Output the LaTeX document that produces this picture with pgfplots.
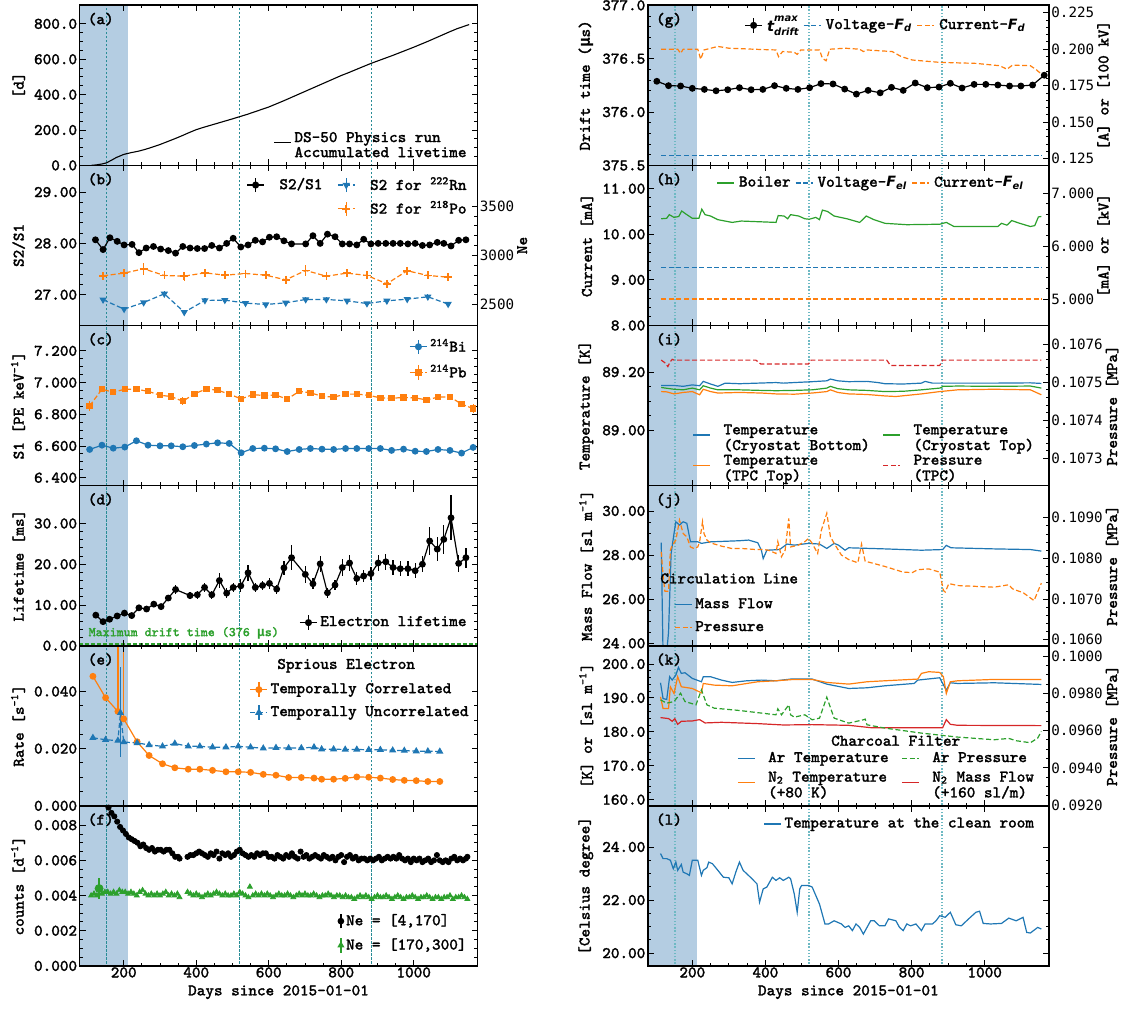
\documentclass[border=0pt]{standalone}
\usepackage{fontspec}
\newfontfamily\cour{Latin Modern Mono}[FakeBold=1.6]
\newfontfamily\dvs{DejaVu Sans}
\newfontfamily\dvsm{DejaVu Sans Mono}
\usepackage{pgfplots}
\pgfplotsset{compat=1.18}

\definecolor{tabblue}{HTML}{1F77B4}
\definecolor{taborange}{HTML}{FF7F0E}
\definecolor{tabgreen}{HTML}{2CA02C}
\definecolor{tabred}{HTML}{D62728}
\definecolor{shadeblue}{RGB}{180,205,226}
\definecolor{vdark}{RGB}{40,140,150}
\definecolor{vlight}{RGB}{110,185,195}

\newcommand{\mfont}{\cour\fontsize{8.1}{9.4}\selectfont}
\newcommand{\two}[2]{\renewcommand{\arraystretch}{0.8}\begin{tabular}[c]{@{}l@{}}#1\\#2\end{tabular}}
\newcommand{\Fd}{{\dvs\bfseries\itshape\fontsize{7.1}{8}\selectfont F\textsubscript{d}}}
\newcommand{\Fel}{{\dvs\bfseries\itshape\fontsize{7.1}{8}\selectfont F\textsubscript{el}}}
\newcommand{\tdrift}{{\dvs\bfseries\itshape\fontsize{7.4}{8}\selectfont t\raisebox{-1.8pt}{\shortstack[l]{\fontsize{5}{5}\selectfont max\\[-0.3pt]\fontsize{5}{5}\selectfont drift}}}}
\newcommand{\mus}{{\dvsm\bfseries µ}}

% shaded period and the three dotted lines
\newcommand{\deco}[3]{%
  \addplot[draw=none, fill=shadeblue, forget plot] coordinates {(60,#1) (213,#1) (213,#2) (60,#2)} -- cycle;
  \addplot[#3, forget plot] coordinates {(152,#1) (152,#2)};
  \addplot[#3, forget plot] coordinates {(519,#1) (519,#2)};
  \addplot[#3, forget plot] coordinates {(884,#1) (884,#2)};
}
\newcommand{\plab}[1]{\node[anchor=north west, inner sep=0pt] at (rel axis cs:0.02,0.955) {(#1)};}

\pgfplotsset{
  panel/.style={
    scale only axis, height=80.05pt,
    xmin=78, xmax=1176,
    xtick={200,400,600,800,1000}, minor x tick num=3,
    tick align=inside,
    major tick length=3pt, minor tick length=1.6pt,
    every tick/.style={black, line width=0.45pt},
    axis line style={line width=0.8pt},
    axis on top,
    scaled y ticks=false,
    yticklabel style={/pgf/number format/fixed, /pgf/number format/fixed zerofill,
      /pgf/number format/assume math mode=true, /pgf/number format/1000 sep={}, inner xsep=1pt},
    xticklabel style={/pgf/number format/assume math mode=true, /pgf/number format/1000 sep={}, inner ysep=0.8pt, yshift=0.3pt},
    xlabel shift=-0.5pt,
    legend style={draw=none, fill=none, inner sep=1pt, font=\mfont, cells={anchor=west},
      nodes={inner xsep=1.3pt, inner ysep=1.5pt}},
    legend cell align=left,
    legend image code/.code={\draw[mark repeat=2, mark phase=2, ##1, line width=0.75pt] plot coordinates {(0pt,0pt) (4.25pt,0pt) (8.5pt,0pt)};},
  },
  nolab/.style={xticklabels={}},
  L/.style={panel, width=199pt},
  R/.style={panel, width=200.65pt},
  twin/.style={axis x line=none, axis y line*=right, tick align=inside, ylabel shift=-3pt,
    yticklabel style={font=\dvsm\mdseries\fontsize{7.1}{8}\selectfont}},
  errleg/.style={legend image code/.code={
      \draw[mark repeat=2, mark phase=2, ##1, line width=0.7pt] plot coordinates {(0pt,0pt) (4.25pt,0pt) (8.5pt,0pt)};
      \draw[##1, solid, mark=none, line width=0.7pt] (4.25pt,-3.6pt) -- (4.25pt,3.6pt);}},
  vl/.style={vdark, line width=0.35pt, dash pattern=on 1.2pt off 0.8pt},
  vr/.style={vlight, line width=0.8pt, dash pattern=on 0.7pt off 0.9pt},
  dsh/.style={dash pattern=on 2.5pt off 1.3pt},
  eb/.style={error bars/.cd, y dir=both, y explicit, error mark=none, error bar style={line width=0.6pt, solid}},
  toprow/.style={legend columns=3, legend style={at={(#1,0.965)}, anchor=north west, column sep=0.8pt}},
}

\begin{document}
\begin{tikzpicture}[font=\mfont]

%% ---------------- (a)
\begin{axis}[L, nolab, at={(39.75pt,501.35pt)}, anchor=north west,
  ymin=0, ymax=905, ytick={0,200,400,600,800}, minor y tick num=3,
  yticklabel style={/pgf/number format/precision=1}, ylabel={[d]},
  legend style={at={(0.985,0.04)}, anchor=south east}]
\deco{-50}{1000}{vl}
\addplot[black, line width=0.55pt] coordinates {
(110,0) (125,3) (140,8) (152,14) (165,28) (180,45) (200,62) (220,72) (240,80) (260,91)
(280,104) (300,118) (320,134) (340,150) (360,167) (380,185) (400,202) (420,215) (440,227)
(460,239) (480,251) (500,263) (519,275) (540,288) (560,302) (580,316) (600,330) (620,347)
(640,364) (660,382) (680,400) (700,418) (720,436) (740,454) (760,472) (780,490) (800,508)
(820,524) (840,541) (860,558) (884,578) (900,590) (920,605) (940,620) (960,636) (980,652)
(1000,668) (1020,685) (1040,702) (1060,720) (1080,738) (1100,756) (1120,773) (1140,787) (1153,796)};
\addlegendentry{\two{DS-50 Physics run}{Accumulated livetime}}
\plab{a}
\end{axis}

%% ---------------- (b)
\begin{axis}[L, nolab, at={(39.75pt,421.3pt)}, anchor=north west, ytick pos=left,
  ymin=26.40, ymax=29.52, ytick={27,28,29}, minor y tick num=4,
  yticklabel style={/pgf/number format/precision=2}, ylabel={S2/S1}]
\deco{26}{30}{vl}
\addplot[black, line width=0.6pt, mark=*, mark size=1.4pt, eb] coordinates {
(122,28.07) +- (0,0.02) (143,27.88) +- (0,0.02) (162,28.11) +- (0,0.02) (182,28.04) +- (0,0.02)
(201,27.97) +- (0,0.02) (223,27.98) +- (0,0.02) (242,27.82) +- (0,0.02) (262,27.91) +- (0,0.02)
(282,27.94) +- (0,0.02) (302,27.89) +- (0,0.02) (323,27.86) +- (0,0.02) (343,27.81) +- (0,0.02)
(363,27.94) +- (0,0.02) (383,27.91) +- (0,0.02) (403,27.90) +- (0,0.02) (423,27.90) +- (0,0.02)
(443,27.96) +- (0,0.02) (464,27.91) +- (0,0.02) (484,28.00) +- (0,0.02) (502,28.10) +- (0,0.02)
(523,27.93) +- (0,0.02) (543,27.97) +- (0,0.02) (563,28.06) +- (0,0.02) (583,28.03) +- (0,0.02)
(602,28.12) +- (0,0.02) (622,28.13) +- (0,0.02) (642,28.05) +- (0,0.02) (663,27.99) +- (0,0.02)
(702,27.99) +- (0,0.02) (722,28.15) +- (0,0.02) (742,28.00) +- (0,0.02) (762,28.18) +- (0,0.02)
(783,28.13) +- (0,0.02) (803,27.99) +- (0,0.02) (823,27.99) +- (0,0.02) (843,27.97) +- (0,0.02)
(862,28.08) +- (0,0.02) (882,27.99) +- (0,0.02) (902,28.00) +- (0,0.02) (923,28.00) +- (0,0.02)
(943,28.00) +- (0,0.02) (963,28.00) +- (0,0.02) (984,27.99) +- (0,0.02) (1004,28.00) +- (0,0.02)
(1024,27.96) +- (0,0.02) (1044,27.97) +- (0,0.02) (1065,28.02) +- (0,0.02) (1083,28.00) +- (0,0.02)
(1103,27.95) +- (0,0.02) (1124,28.06) +- (0,0.02) (1144,28.07) +- (0,0.02)};
\plab{b}
\end{axis}
\begin{axis}[L, twin, at={(39.75pt,421.3pt)}, anchor=north west,
  ymin=2290, ymax=3913, ytick={2500,3000,3500}, minor y tick num=4,
  yticklabel style={/pgf/number format/precision=0}, ylabel={Ne},
  legend columns=2, legend style={at={(0.985,0.96)}, anchor=north east, column sep=6pt, row sep=1pt}]
\addlegendimage{black, line width=0.6pt, mark=*, mark size=1.4pt, errleg}
\addlegendentry{S2/S1}
\addplot[tabblue, line width=0.6pt, dsh, mark=triangle*, mark size=1.5pt, mark options={solid, rotate=180}, errleg, eb] coordinates {
(143,2551) +- (0,20) (201,2456) +- (0,20) (255,2523) +- (0,20) (312,2611) +- (0,25) (367,2425) +- (0,25)
(424,2544) +- (0,20) (479,2547) +- (0,20) (536,2517) +- (0,20) (592,2503) +- (0,20) (647,2520) +- (0,20)
(702,2554) +- (0,20) (759,2554) +- (0,20) (816,2540) +- (0,20) (871,2513) +- (0,20) (926,2540) +- (0,20)
(982,2557) +- (0,20) (1039,2581) +- (0,25) (1095,2507) +- (0,20)};
\addlegendentry{S2 for \textsuperscript{222}Rn}
\addlegendimage{empty legend}
\addlegendentry{}
\addplot[taborange, line width=0.6pt, dsh, mark=+, mark size=2pt, mark options={solid, line width=0.8pt}, errleg, eb] coordinates {
(143,2794) +- (0,35) (201,2821) +- (0,40) (255,2865) +- (0,60) (312,2797) +- (0,35) (367,2790) +- (0,45)
(424,2824) +- (0,35) (479,2800) +- (0,35) (536,2817) +- (0,40) (592,2800) +- (0,35) (647,2753) +- (0,35)
(702,2848) +- (0,55) (759,2790) +- (0,35) (816,2821) +- (0,35) (871,2797) +- (0,35) (926,2713) +- (0,40)
(982,2845) +- (0,35) (1039,2797) +- (0,35) (1095,2780) +- (0,35)};
\addlegendentry{S2 for \textsuperscript{218}Po}
\end{axis}

%% ---------------- (c)
\begin{axis}[L, nolab, at={(39.75pt,341.25pt)}, anchor=north west,
  ymin=6.35, ymax=7.36, ytick={6.4,6.6,6.8,7.0,7.2}, minor y tick num=3,
  yticklabel style={/pgf/number format/precision=3}, ylabel={S1 [PE keV\textsuperscript{-1}]},
  legend style={at={(0.985,0.95)}, anchor=north east, row sep=2pt}]
\deco{6.3}{7.4}{vl}
\addplot[tabblue, line width=0.6pt, mark=*, mark size=1.4pt, errleg, eb] coordinates {
(106,6.578) +- (0,0.01) (140,6.605) +- (0,0.01) (171,6.586) +- (0,0.01) (203,6.593) +- (0,0.01)
(235,6.633) +- (0,0.01) (267,6.605) +- (0,0.01) (300,6.601) +- (0,0.01) (331,6.601) +- (0,0.01)
(363,6.595) +- (0,0.01) (395,6.603) +- (0,0.01) (428,6.612) +- (0,0.01) (459,6.620) +- (0,0.01)
(491,6.616) +- (0,0.01) (524,6.557) +- (0,0.01) (556,6.584) +- (0,0.01) (588,6.586) +- (0,0.01)
(619,6.582) +- (0,0.01) (651,6.565) +- (0,0.01) (684,6.578) +- (0,0.01) (715,6.584) +- (0,0.01)
(747,6.580) +- (0,0.01) (779,6.578) +- (0,0.01) (812,6.584) +- (0,0.01) (843,6.584) +- (0,0.01)
(876,6.584) +- (0,0.01) (908,6.584) +- (0,0.01) (939,6.572) +- (0,0.01) (972,6.580) +- (0,0.01)
(1004,6.567) +- (0,0.01) (1035,6.565) +- (0,0.01) (1067,6.578) +- (0,0.01) (1100,6.572) +- (0,0.01)
(1132,6.555) +- (0,0.01) (1164,6.591) +- (0,0.015)};
\addlegendentry{\textsuperscript{214}Bi}
\addplot[taborange, line width=0.6pt, dsh, mark=square*, mark size=1.3pt, mark options={solid}, errleg, eb] coordinates {
(106,6.853) +- (0,0.03) (140,6.958) +- (0,0.012) (171,6.939) +- (0,0.012) (203,6.958) +- (0,0.012)
(235,6.958) +- (0,0.012) (267,6.945) +- (0,0.012) (300,6.920) +- (0,0.012) (331,6.912) +- (0,0.012)
(363,6.882) +- (0,0.025) (395,6.929) +- (0,0.012) (428,6.960) +- (0,0.012) (459,6.952) +- (0,0.012)
(491,6.927) +- (0,0.012) (524,6.897) +- (0,0.012) (556,6.924) +- (0,0.012) (588,6.918) +- (0,0.012)
(619,6.922) +- (0,0.012) (651,6.895) +- (0,0.012) (684,6.945) +- (0,0.012) (715,6.935) +- (0,0.012)
(747,6.914) +- (0,0.012) (779,6.908) +- (0,0.012) (812,6.927) +- (0,0.012) (843,6.927) +- (0,0.012)
(876,6.920) +- (0,0.012) (908,6.903) +- (0,0.012) (939,6.901) +- (0,0.012) (972,6.906) +- (0,0.012)
(1004,6.903) +- (0,0.012) (1035,6.891) +- (0,0.012) (1067,6.908) +- (0,0.012) (1100,6.910) +- (0,0.012)
(1132,6.864) +- (0,0.015) (1164,6.836) +- (0,0.03)};
\addlegendentry{\textsuperscript{214}Pb}
\plab{c}
\end{axis}

%% ---------------- (d)
\begin{axis}[L, nolab, at={(39.75pt,261.2pt)}, anchor=north west,
  ymin=0, ymax=39.3, ytick={0,10,20,30}, minor y tick num=4,
  yticklabel style={/pgf/number format/precision=2}, ylabel={Lifetime [ms]},
  legend style={at={(0.985,0.07)}, anchor=south east}]
\deco{-1}{40}{vl}
\addplot[tabgreen, line width=1.1pt, dash pattern=on 2pt off 1pt, forget plot] coordinates {(60,0.376) (1190,0.376)};
\addplot[black, line width=0.6pt, mark=*, mark size=1.4pt, errleg, eb] coordinates {
(123,7.5) +- (0,0.4) (143,5.9) +- (0,0.4) (161,6.5) +- (0,0.4) (182,7.3) +- (0,0.4) (202,8.0) +- (0,0.5)
(222,7.4) +- (0,0.5) (242,9.3) +- (0,0.6) (263,9.0) +- (0,0.6) (283,10.2) +- (0,0.6) (303,9.6) +- (0,0.6)
(323,11.7) +- (0,0.8) (343,13.8) +- (0,1.2) (383,12.3) +- (0,0.9) (403,12.5) +- (0,1.0) (423,14.3) +- (0,1.2)
(443,12.5) +- (0,1.0) (464,16.0) +- (0,1.8) (484,12.9) +- (0,1.2) (502,14.3) +- (0,1.1) (523,14.7) +- (0,1.6)
(543,17.9) +- (0,2.0) (563,14.3) +- (0,1.1) (583,14.8) +- (0,1.2) (602,15.3) +- (0,1.3) (622,13.9) +- (0,1.1)
(642,19.1) +- (0,1.8) (663,21.6) +- (0,3.0) (701,17.5) +- (0,2.0) (722,15.2) +- (0,1.3) (742,20.1) +- (0,2.0)
(762,13.0) +- (0,1.2) (783,14.9) +- (0,1.2) (803,19.2) +- (0,2.0) (823,20.3) +- (0,2.0) (843,16.5) +- (0,1.5)
(862,17.1) +- (0,1.5) (882,17.7) +- (0,1.5) (902,20.3) +- (0,2.0) (923,20.6) +- (0,2.0) (943,19.2) +- (0,1.8)
(963,18.9) +- (0,1.8) (984,18.9) +- (0,1.8) (1004,18.4) +- (0,1.8) (1024,20.0) +- (0,2.0) (1044,25.7) +- (0,3.5)
(1065,23.7) +- (0,3.0) (1083,26.1) +- (0,3.5) (1103,31.4) +- (0,5.5) (1124,20.2) +- (0,2.0) (1144,21.6) +- (0,2.5)};
\addlegendentry{Electron lifetime}
\node[anchor=south west, inner sep=0pt, text=tabgreen, font=\cour\fontsize{6.6}{7}\selectfont] at (rel axis cs:0.022,0.04) {Maximum drift time (376 \mus s)};
\plab{d}
\end{axis}

%% ---------------- (e)
\begin{axis}[L, nolab, at={(39.75pt,181.15pt)}, anchor=north west,
  ymin=0, ymax=0.056, ytick={0,0.02,0.04}, minor y tick num=3,
  yticklabel style={/pgf/number format/precision=3}, ylabel={Rate [s\textsuperscript{-1}]},
  legend style={at={(0.99,0.80)}, anchor=north east, row sep=2pt}]
\deco{-0.01}{0.07}{vl}
\addplot[taborange, line width=0.6pt, mark=*, mark size=1.4pt, errleg, eb] coordinates {
(115,0.0453) +- (0,0.0003) (150,0.0378) +- (0,0.0003) (184,0.0330) += (0,0.04) -= (0,0.0003)
(200,0.0304) += (0,0.04) -= (0,0.0003) (237,0.0224) +- (0,0.0003) (270,0.0176) +- (0,0.0003)
(307,0.0147) +- (0,0.0003) (341,0.0133) +- (0,0.0003) (378,0.0128) +- (0,0.0003) (410,0.0128) +- (0,0.0003)
(445,0.0124) +- (0,0.0003) (482,0.0119) +- (0,0.0003) (516,0.0119) +- (0,0.0003) (550,0.0117) +- (0,0.0003)
(585,0.0110) +- (0,0.0003) (620,0.0107) +- (0,0.0003) (655,0.0099) +- (0,0.0003) (690,0.0099) +- (0,0.0003)
(725,0.0097) +- (0,0.0003) (746,0.0093) +- (0,0.0003) (779,0.0093) +- (0,0.0003) (811,0.0096) +- (0,0.0003)
(843,0.0101) +- (0,0.0003) (876,0.0100) +- (0,0.0003) (908,0.0097) +- (0,0.0003) (942,0.0092) +- (0,0.0003)
(974,0.0089) +- (0,0.0003) (1007,0.0088) +- (0,0.0003) (1039,0.0085) +- (0,0.0003) (1072,0.0085) +- (0,0.0003)};
\addlegendentry{Temporally Correlated}
\addplot[tabblue, line width=0.6pt, dsh, mark=triangle*, mark size=1.5pt, mark options={solid}, errleg, eb] coordinates {
(115,0.0238) +- (0,0.0003) (150,0.0231) +- (0,0.0003) (184,0.0228) +- (0,0.0003)
(191,0.0325) += (0,0.0159) -= (0,0.0155) (200,0.0223) +- (0,0.0003) (237,0.0220) +- (0,0.0003)
(270,0.0213) +- (0,0.0003) (307,0.0208) +- (0,0.0003) (341,0.0218) +- (0,0.0003) (378,0.0208) +- (0,0.0003)
(410,0.0208) +- (0,0.0003) (445,0.0205) +- (0,0.0003) (482,0.0205) +- (0,0.0003) (516,0.0208) +- (0,0.0003)
(550,0.0205) +- (0,0.0003) (585,0.0201) +- (0,0.0003) (620,0.0203) +- (0,0.0003) (655,0.0202) +- (0,0.0003)
(690,0.0202) +- (0,0.0003) (725,0.0205) +- (0,0.0003) (746,0.0198) +- (0,0.0003) (779,0.0198) +- (0,0.0003)
(811,0.0197) +- (0,0.0003) (843,0.0197) +- (0,0.0003) (876,0.0196) +- (0,0.0003) (908,0.0196) +- (0,0.0003)
(942,0.0194) +- (0,0.0003) (974,0.0193) +- (0,0.0003) (1007,0.0191) +- (0,0.0003) (1039,0.0191) +- (0,0.0003)
(1072,0.0190) +- (0,0.0003)};
\addlegendentry{Temporally Uncorrelated}
\node[inner sep=0pt] at (rel axis cs:0.67,0.875) {Sprious Electron};
\plab{e}
\end{axis}

%% ---------------- (f)
\begin{axis}[L, at={(39.75pt,101.1pt)}, anchor=north west,
  ymin=0, ymax=0.0091, ytick={0,0.002,0.004,0.006,0.008}, minor y tick num=3,
  yticklabel style={/pgf/number format/precision=3}, ylabel={counts [d\textsuperscript{-1}]},
  xlabel={Days since 2015-01-01},
  legend style={at={(0.985,0.05)}, anchor=south east, row sep=2pt}]
\deco{-0.001}{0.01}{vl}
\addplot[black, only marks, mark=*, mark size=1.3pt, errleg] coordinates {
(150,0.0092) (158,0.0090) (166,0.0087) (174,0.0085) (182,0.0082) (190,0.0079) (198,0.0077) (206,0.0075)
(214,0.0073) (222,0.0072) (230,0.0071) (238,0.0070) (246,0.0068) (254,0.0069) (262,0.0067) (270,0.0066)
(278,0.0067) (286,0.0065) (294,0.0066) (302,0.0066) (310,0.0065) (318,0.0066) (326,0.0066) (334,0.0064)
(342,0.0062) (350,0.0062) (354,0.0061)
(376,0.0062) (384,0.0063) (392,0.0063) (400,0.0064) (408,0.0065) (416,0.0064) (424,0.0063) (432,0.0062)
(440,0.0064) (448,0.0063) (456,0.0065) (464,0.0061) (472,0.0064) (480,0.0063) (488,0.0064) (496,0.0062)
(504,0.0063) (512,0.0065) (520,0.0066) (528,0.0064) (536,0.0063) (544,0.0062) (552,0.0063) (560,0.0062)
(568,0.0064) (576,0.0063) (584,0.0064) (592,0.0064) (600,0.0062) (608,0.0062) (616,0.0061) (624,0.0063)
(632,0.0062) (640,0.0061) (648,0.0063) (656,0.0062) (664,0.0064) (672,0.0062) (680,0.0061) (688,0.0065)
(696,0.0062) (704,0.0063) (712,0.0061) (720,0.0062) (728,0.0063) (736,0.0062) (744,0.0061) (752,0.0063)
(760,0.0062) (768,0.0061) (776,0.0062) (784,0.0060) (792,0.0062) (800,0.0063) (808,0.0059) (816,0.0062)
(824,0.0063) (832,0.0061) (840,0.0062) (848,0.0060) (856,0.0061) (864,0.0061) (872,0.0060) (880,0.0061)
(888,0.0060) (896,0.0061) (904,0.0062) (912,0.0060) (920,0.0061) (928,0.0062) (936,0.0061) (944,0.0062)
(952,0.0061) (960,0.0063) (968,0.0061) (976,0.0060) (984,0.0061) (992,0.0059) (1000,0.0061) (1008,0.0060)
(1016,0.0061) (1024,0.0059) (1032,0.0060) (1040,0.0061) (1048,0.0059) (1056,0.0060) (1064,0.0063) (1072,0.0060)
(1080,0.0059) (1088,0.0060) (1096,0.0059) (1104,0.0061) (1112,0.0062) (1120,0.0060) (1128,0.0061) (1136,0.0060)
(1144,0.0061) (1148,0.0062)};
\addlegendentry{Ne = [4,170]}
\addplot[tabgreen, only marks, mark=triangle*, mark size=1.4pt, errleg] coordinates {
(110,0.0040) (118,0.0041) (126,0.0040) (132,0.0044) (140,0.0041) (148,0.0042) (156,0.0042) (164,0.0041)
(172,0.0042) (180,0.0041) (188,0.0043) (196,0.0042) (204,0.0042) (212,0.0041) (220,0.0042) (228,0.0041)
(236,0.0040) (244,0.0042) (252,0.0043) (260,0.0041) (268,0.0040) (276,0.0041) (284,0.0040) (292,0.0041)
(300,0.0040) (308,0.0041) (316,0.0042) (324,0.0040) (332,0.0041) (340,0.0040) (348,0.0041) (354,0.0039)
(376,0.0042) (384,0.0041) (392,0.0040) (400,0.0041) (408,0.0040) (416,0.0039) (424,0.0040) (432,0.0041)
(440,0.0040) (448,0.0041) (456,0.0042) (464,0.0041) (472,0.0040) (480,0.0041) (488,0.0040) (496,0.0040)
(504,0.0041) (512,0.0040) (520,0.0042) (528,0.0041) (536,0.0040) (544,0.0039) (548,0.0045) (556,0.0040)
(564,0.0041) (572,0.0040) (580,0.0041) (588,0.0040) (596,0.0041) (604,0.0040) (612,0.0039) (620,0.0040)
(628,0.0041) (636,0.0040) (644,0.0040) (652,0.0041) (660,0.0040) (668,0.0039) (676,0.0040) (684,0.0041)
(692,0.0040) (700,0.0041) (708,0.0040) (716,0.0040) (724,0.0041) (732,0.0040) (740,0.0039) (748,0.0040)
(756,0.0040) (764,0.0041) (772,0.0040) (780,0.0039) (788,0.0040) (796,0.0040) (804,0.0039) (812,0.0040)
(820,0.0039) (828,0.0039) (836,0.0038) (844,0.0039) (852,0.0040) (860,0.0039) (868,0.0040) (876,0.0039)
(884,0.0038) (892,0.0039) (900,0.0040) (908,0.0039) (916,0.0039) (924,0.0040) (932,0.0039) (940,0.0038)
(948,0.0039) (956,0.0040) (964,0.0039) (972,0.0038) (980,0.0039) (988,0.0039) (996,0.0040) (1004,0.0039)
(1012,0.0038) (1020,0.0039) (1028,0.0039) (1036,0.0040) (1044,0.0039) (1052,0.0038) (1060,0.0039) (1068,0.0039)
(1076,0.0038) (1084,0.0039) (1092,0.0039) (1100,0.0040) (1108,0.0038) (1116,0.0039) (1124,0.0039) (1132,0.0040)
(1140,0.0039) (1148,0.0038)};
\addlegendentry{Ne = [170,300]}
\addplot[tabgreen, only marks, mark=none, forget plot, eb] coordinates {(132,0.0044) +- (0,0.0006)};
\plab{f}
\end{axis}

%% ================= right column
%% ---------------- (g)
\begin{axis}[R, nolab, at={(323.85pt,501.35pt)}, anchor=north west, ytick pos=left,
  ymin=375.5, ymax=377.0, ytick={375.5,376,376.5,377}, minor y tick num=4,
  yticklabel style={/pgf/number format/precision=1}, ylabel={Drift time (\mus s)}]
\deco{375}{378}{vr}
\addplot[black, line width=0.6pt, mark=*, mark size=1.4pt, eb] coordinates {
(103,376.288) +- (0,0.008) (135,376.247) +- (0,0.008) (168,376.244) +- (0,0.008) (200,376.222) +- (0,0.008)
(233,376.212) +- (0,0.008) (265,376.199) +- (0,0.008) (297,376.209) +- (0,0.008) (329,376.228) +- (0,0.008)
(361,376.209) +- (0,0.025) (393,376.212) +- (0,0.008) (425,376.247) +- (0,0.008) (457,376.222) +- (0,0.008)
(489,376.212) +- (0,0.008) (521,376.228) +- (0,0.008) (552,376.266) +- (0,0.008) (585,376.263) +- (0,0.008)
(617,376.215) +- (0,0.008) (649,376.168) +- (0,0.008) (681,376.203) +- (0,0.008) (714,376.180) +- (0,0.008)
(745,376.231) +- (0,0.008) (777,376.203) +- (0,0.008) (810,376.272) +- (0,0.008) (843,376.228) +- (0,0.008)
(875,376.234) +- (0,0.008) (906,376.269) +- (0,0.008) (938,376.225) +- (0,0.008) (971,376.259) +- (0,0.008)
(1003,376.259) +- (0,0.008) (1036,376.253) +- (0,0.008) (1068,376.244) +- (0,0.008) (1099,376.244) +- (0,0.008)
(1131,376.253) +- (0,0.008) (1163,376.345) +- (0,0.025)};
\plab{g}
\end{axis}
\begin{axis}[R, twin, toprow=0.235, at={(323.85pt,501.35pt)}, anchor=north west,
  ymin=0.1204, ymax=0.2301, ytick={0.125,0.150,0.175,0.200,0.225}, minor y tick num=4,
  yticklabel style={/pgf/number format/precision=3}, ylabel={[A] or [100 kV]}]
\addlegendimage{black, line width=0.6pt, mark=*, mark size=1.4pt, errleg}
\addlegendentry{\tdrift}
\addplot[tabblue, line width=0.6pt, dsh] coordinates {(115,0.1271) (1155,0.1271)};
\addlegendentry{Voltage-\Fd}
\addplot[taborange, line width=0.6pt, dsh] coordinates {
(115,0.2000) (160,0.2000) (168,0.1972) (175,0.2000) (215,0.2000) (223,0.1931) (232,0.1995) (270,0.2019)
(300,0.2007) (349,0.2002) (389,0.1998) (429,0.1995) (436,0.1949) (447,0.1984) (479,0.1979) (487,0.1965)
(497,0.1995) (548,0.1995) (556,0.1938) (566,0.1921) (576,0.2000) (618,0.2007) (658,0.2000) (668,0.1984)
(678,0.1995) (747,0.1984) (772,0.1949) (802,0.1926) (877,0.1910) (976,0.1903) (1041,0.1887) (1061,0.1863)
(1076,0.1891) (1125,0.1887) (1143,0.1856) (1155,0.1829)};
\addlegendentry{Current-\Fd}
\end{axis}

%% ---------------- (h)
\begin{axis}[R, nolab, at={(323.85pt,421.3pt)}, anchor=north west, ytick pos=left,
  ymin=8.0, ymax=11.51, ytick={8,9,10,11}, minor y tick num=4,
  yticklabel style={/pgf/number format/precision=2}, ylabel={Current [mA]}]
\deco{7.5}{12}{vr}
\addplot[tabgreen, line width=0.6pt] coordinates {
(115,10.34) (130,10.35) (137,10.43) (150,10.37) (163,10.39) (171,10.51) (185,10.43) (200,10.35) (218,10.35)
(226,10.55) (235,10.43) (250,10.40) (270,10.32) (309,10.26) (334,10.29) (429,10.26) (435,10.41) (451,10.40)
(461,10.34) (469,10.43) (491,10.40) (508,10.34) (520,10.33) (538,10.37) (548,10.32) (556,10.53) (570,10.50)
(588,10.40) (623,10.34) (658,10.26) (676,10.40) (697,10.32) (727,10.24) (787,10.21) (877,10.22) (895,10.26)
(916,10.17) (1036,10.17) (1046,10.24) (1061,10.20) (1074,10.30) (1096,10.24) (1125,10.17) (1137,10.19)
(1147,10.38) (1155,10.39)};
\plab{h}
\end{axis}
\begin{axis}[R, twin, toprow=0.165, at={(323.85pt,421.3pt)}, anchor=north west,
  ymin=4.5, ymax=7.525, ytick={5,6,7}, minor y tick num=4,
  yticklabel style={/pgf/number format/precision=3}, ylabel={[mA] or [kV]}]
\addlegendimage{tabgreen, line width=0.6pt}
\addlegendentry{Boiler}
\addplot[tabblue, line width=0.6pt, dsh] coordinates {(115,5.595) (1155,5.595)};
\addlegendentry{Voltage-\Fel}
\addplot[taborange, line width=0.6pt, dsh] coordinates {(115,5.0) (1155,5.0)};
\addlegendentry{Current-\Fel}
\end{axis}

%% ---------------- (i)
\begin{axis}[R, nolab, at={(323.85pt,341.25pt)}, anchor=north west, ytick pos=left,
  ymin=88.81, ymax=89.36, ytick={89.0,89.2}, minor y tick num=3,
  yticklabel style={/pgf/number format/precision=2}, ylabel={Temperature [K]}]
\deco{88.7}{89.4}{vr}
\addplot[tabblue, line width=0.6pt] coordinates {
(115,89.154) (150,89.154) (175,89.151) (200,89.156) (220,89.153) (230,89.168) (250,89.159) (270,89.151)
(290,89.162) (329,89.160) (379,89.162) (429,89.164) (449,89.162) (479,89.164) (528,89.167) (568,89.170)
(578,89.176) (598,89.170) (628,89.167) (678,89.168) (708,89.164) (727,89.160) (777,89.159) (827,89.162)
(837,89.168) (857,89.162) (926,89.162) (1026,89.162) (1125,89.163) (1155,89.161)};
\addplot[tabgreen, line width=0.6pt] coordinates {
(115,89.147) (150,89.141) (175,89.139) (200,89.145) (220,89.139) (230,89.153) (250,89.145) (270,89.139)
(329,89.139) (389,89.137) (429,89.136) (479,89.137) (528,89.139) (568,89.145) (578,89.151) (598,89.143)
(628,89.139) (678,89.137) (727,89.133) (777,89.134) (827,89.139) (877,89.145) (887,89.151) (926,89.152)
(1026,89.151) (1125,89.152) (1155,89.145)};
\addplot[taborange, line width=0.6pt] coordinates {
(115,89.133) (130,89.132) (150,89.125) (175,89.130) (200,89.133) (220,89.122) (230,89.141) (250,89.133)
(270,89.128) (329,89.130) (389,89.128) (429,89.125) (479,89.124) (528,89.128) (568,89.133) (578,89.139)
(598,89.130) (628,89.125) (678,89.123) (727,89.118) (757,89.116) (827,89.125) (877,89.133) (926,89.139)
(1026,89.141) (1125,89.139) (1155,89.122)};
\plab{i}
\end{axis}
\begin{axis}[R, twin, at={(323.85pt,341.25pt)}, anchor=north west,
  ymin=0.107228, ymax=0.107649, ytick={0.1073,0.1074,0.1075,0.1076}, minor y tick num=4,
  yticklabel style={/pgf/number format/precision=4}, ylabel={Pressure [MPa]},
  legend columns=2, legend style={at={(0.975,0.42)}, anchor=north east, column sep=5pt, row sep=1pt}]
\addlegendimage{tabblue, line width=0.6pt}
\addlegendentry{\two{Temperature}{(Cryostat Bottom)}}
\addlegendimage{tabgreen, line width=0.6pt}
\addlegendentry{\two{Temperature}{(Cryostat Top)}}
\addlegendimage{taborange, line width=0.6pt}
\addlegendentry{\two{Temperature}{(TPC Top)}}
\addplot[tabred, line width=0.6pt, dsh] coordinates {
(115,0.107558) (125,0.107551) (133,0.107541) (140,0.107554) (145,0.107560) (150,0.107558) (374,0.107558)
(387,0.107548) (518,0.107548) (525,0.107558) (732,0.107558) (742,0.107544) (877,0.107544) (885,0.107558)
(1155,0.107558)};
\addlegendentry{\two{Pressure}{(TPC)}}
\end{axis}

%% ---------------- (j)
\begin{axis}[R, nolab, at={(323.85pt,261.2pt)}, anchor=north west, ytick pos=left,
  ymin=23.89, ymax=31.15, ytick={24,26,28,30}, minor y tick num=3,
  yticklabel style={/pgf/number format/precision=2}, ylabel={Mass Flow [sl m\textsuperscript{-1}]}]
\deco{23}{32}{vr}
\addplot[tabblue, line width=0.6pt] coordinates {
(115,28.56) (120,23.5) (130,23.6) (135,24.5) (142,28.07) (150,28.98) (155,29.51) (165,29.36) (175,29.51)
(185,29.44) (195,28.60) (215,28.60) (225,28.53) (250,28.60) (329,28.65) (354,28.68) (379,28.56) (389,28.22)
(394,27.84) (404,28.22) (439,28.25) (459,28.50) (479,28.45) (518,28.53) (548,28.50) (568,28.30) (588,28.53)
(600,28.45) (618,28.22) (628,28.33) (727,28.28) (827,28.22) (885,28.25) (895,28.44) (908,28.33) (1026,28.28)
(1125,28.25) (1155,28.18)};
\plab{j}
\end{axis}
\begin{axis}[R, twin, at={(323.85pt,261.2pt)}, anchor=north west,
  ymin=0.10585, ymax=0.10979, ytick={0.106,0.107,0.108,0.109}, minor y tick num=4,
  yticklabel style={/pgf/number format/precision=4}, ylabel={Pressure [MPa]},
  legend style={at={(0.06,0.33)}, anchor=north west, row sep=2pt}]
\addlegendimage{tabblue, line width=0.6pt}
\addlegendentry{Mass Flow}
\addplot[taborange, line width=0.6pt, dsh] coordinates {
(115,0.10816) (120,0.10758) (125,0.10719) (135,0.10719) (140,0.10820) (145,0.10831) (155,0.10845) (165,0.10894)
(175,0.10861) (185,0.10853) (195,0.10828) (205,0.10824) (215,0.10828) (220,0.10841) (228,0.10890) (232,0.10861)
(240,0.10845) (250,0.10838) (280,0.10830) (309,0.10824) (339,0.10824) (369,0.10822) (389,0.10822) (409,0.10820)
(429,0.10812) (434,0.10841) (444,0.10804) (454,0.10820) (464,0.10898) (469,0.10828) (489,0.10832) (508,0.10841)
(518,0.10849) (528,0.10837) (543,0.10812) (553,0.10869) (568,0.10911) (578,0.10853) (588,0.10837) (608,0.10808)
(628,0.10797) (653,0.10789) (663,0.10835) (673,0.10793) (698,0.10787) (727,0.10780) (777,0.10766) (802,0.10765)
(817,0.10772) (847,0.10774) (877,0.10766) (887,0.10721) (892,0.10717) (902,0.10738) (926,0.10733) (976,0.10731)
(1026,0.10729) (1066,0.10735) (1076,0.10725) (1106,0.10715) (1135,0.10696) (1155,0.10739)};
\addlegendentry{Pressure}
\node[inner sep=0pt] at (rel axis cs:0.203,0.42) {Circulation Line};
\end{axis}

%% ---------------- (k)
\begin{axis}[R, nolab, at={(323.85pt,181.15pt)}, anchor=north west, ytick pos=left,
  ymin=158.2, ymax=205.4, ytick={160,170,180,190,200}, minor y tick num=4,
  yticklabel style={/pgf/number format/precision=1}, ylabel={[K] or [sl m\textsuperscript{-1}]}]
\deco{150}{210}{vr}
\addplot[tabblue, line width=0.6pt] coordinates {
(113,194.47) (120,189.83) (130,189.54) (138,196.25) (145,195.26) (155,196.74) (162,199.01) (170,197.24)
(180,197.43) (200,195.76) (225,194.77) (230,196.25) (250,196.25) (280,195.26) (309,194.57) (349,195.06)
(389,195.26) (429,195.06) (469,195.56) (528,195.56) (568,194.08) (628,192.79) (678,192.99) (727,193.58)
(807,194.27) (817,195.26) (877,195.95) (885,194.27) (895,192.30) (906,194.47) (926,194.27) (1026,194.47)
(1155,193.98)};
\addplot[taborange, line width=0.6pt] coordinates {
(113,190.33) (120,186.87) (135,186.87) (140,193.29) (150,191.31) (160,196.25) (170,193.29) (200,192.79)
(225,191.51) (230,194.27) (260,193.78) (309,193.58) (379,194.77) (429,195.06) (479,195.46) (528,195.46)
(568,194.57) (628,194.08) (678,194.77) (727,195.06) (817,195.56) (827,197.24) (847,197.73) (877,197.53)
(887,196.25) (895,191.31) (906,194.77) (926,195.06) (1026,195.46) (1155,195.46)};
\addplot[tabred, line width=0.6pt] coordinates {
(113,184.21) (135,183.91) (145,183.12) (152,183.91) (160,182.23) (170,183.12) (200,183.22) (220,183.61)
(235,182.63) (280,182.82) (379,182.43) (449,182.03) (528,182.13) (628,181.93) (688,181.24) (885,181.24)
(895,183.61) (906,182.23) (926,181.93) (1155,181.84)};
\plab{k}
\end{axis}
\begin{axis}[R, twin, at={(323.85pt,181.15pt)}, anchor=north west,
  ymin=0.09197, ymax=0.10055, ytick={0.092,0.094,0.096,0.098,0.100}, minor y tick num=3,
  yticklabel style={/pgf/number format/precision=4}, ylabel={Pressure [MPa]},
  legend columns=2, legend style={at={(0.975,0.37)}, anchor=north east, column sep=5pt}]
\addlegendimage{tabblue, line width=0.6pt}
\addlegendentry{Ar Temperature}
\addplot[tabgreen, line width=0.6pt, dsh] coordinates {
(113,0.097648) (130,0.097470) (150,0.097559) (168,0.098004) (180,0.097559) (210,0.097381) (225,0.098183)
(240,0.097381) (260,0.097203) (329,0.097078) (429,0.096846) (434,0.097167) (444,0.096846) (464,0.097381)
(469,0.096846) (479,0.096722) (508,0.096846) (528,0.096579) (548,0.096668) (568,0.097791) (588,0.096668)
(628,0.096401) (668,0.096579) (673,0.096615) (678,0.096312) (727,0.096134) (827,0.095866) (926,0.095653)
(1026,0.095510) (1066,0.095581) (1086,0.095457) (1125,0.095350) (1145,0.095599) (1155,0.095955)};
\addlegendentry{Ar Pressure}
\addlegendimage{taborange, line width=0.6pt}
\addlegendentry{\two{N\textsubscript{2} Temperature}{(+80 K)}}
\addlegendimage{tabred, line width=0.6pt}
\addlegendentry{\two{N\textsubscript{2} Mass Flow}{(+160 sl/m)}}
\node[inner sep=0pt] at (rel axis cs:0.618,0.406) {Charcoal Filter};
\end{axis}

%% ---------------- (l)
\begin{axis}[R, at={(323.85pt,101.1pt)}, anchor=north west,
  ymin=19.52, ymax=25.55, ytick={20,22,24}, minor y tick num=3,
  yticklabel style={/pgf/number format/precision=2}, ylabel={[Celsius degree]},
  xlabel={Days since 2015-01-01},
  legend style={at={(0.975,0.96)}, anchor=north east}]
\deco{19}{26}{vr}
\addplot[tabblue, line width=0.6pt] coordinates {
(113,23.75) (120,23.56) (130,23.56) (140,23.50) (148,23.18) (155,23.43) (160,23.12) (170,23.34) (175,23.05)
(185,22.99) (192,22.93) (200,23.50) (215,23.50) (225,22.93) (230,23.12) (240,23.22) (245,23.43) (255,23.37)
(270,23.12) (285,22.86) (300,22.84) (309,22.61) (319,23.05) (329,23.43) (339,23.12) (359,22.86) (377,22.61)
(384,21.92) (394,22.42) (404,22.49) (419,22.86) (429,22.74) (439,22.84) (449,22.74) (464,22.86) (469,22.80)
(479,22.23) (487,21.54) (494,22.42) (499,22.55) (518,22.55) (528,22.49) (548,21.85) (563,21.10) (573,21.10)
(588,21.22) (608,21.10) (618,20.97) (628,21.03) (638,20.85) (648,21.10) (658,20.97) (668,20.72) (678,20.97)
(688,21.22) (698,21.22) (712,21.03) (727,21.03) (737,21.29) (757,21.22) (767,20.97) (777,20.85) (787,21.10)
(797,21.03) (812,21.10) (827,20.85) (837,21.10) (857,21.10) (867,21.22) (877,21.41) (892,21.35) (906,21.54)
(921,21.07) (936,21.03) (956,21.29) (976,21.54) (986,21.58) (996,21.12) (1016,21.10) (1046,21.12) (1066,21.32)
(1086,21.22) (1105,21.35) (1115,20.78) (1125,20.76) (1145,20.97) (1155,20.91)};
\addlegendentry{Temperature at the clean room}
\plab{l}
\end{axis}

\pgfresetboundingbox
\useasboundingbox (0,0) rectangle (561pt,504pt);
\end{tikzpicture}
\end{document}
